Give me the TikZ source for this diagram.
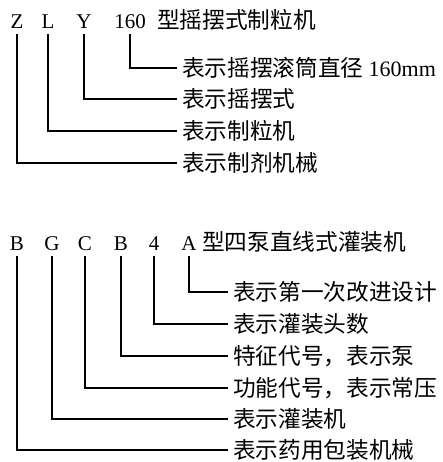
\documentclass[tikz,border=0pt]{standalone}
\usepackage{fontspec}
\setmainfont{Liberation Serif}
\newfontfamily\cjk[Scale=1.08]{Noto Sans CJK SC}
\usetikzlibrary{positioning}

\tikzset{
  code/.style={font=\fontsize{21}{21}\selectfont, inner sep=0pt, anchor=base},
  meaning/.style={font=\fontsize{21}{21}\selectfont\cjk, anchor=west, inner xsep=5pt, inner ysep=0pt},
  lead/.style={line width=1.1pt},
}

\begin{document}
\begin{tikzpicture}[x=1pt,y=-1pt]
        \useasboundingbox (0,0) rectangle (442,462);

        % Model code ZLY160
        \node[code] (z) at (17,29) {Z};
        \node[code] (l) at (48,29) {L};
        \node[code] (y) at (84,29) {Y};
        \node[code] (n160) at (130,29) {160};
        \node[code, anchor=base west] (ztitle) at (157,29) {\cjk 型摇摆式制粒机};

        % Meanings
        \node[meaning] (lab160) at (177,68) {表示摇摆滚筒直径 {\normalfont\fontsize{22}{22}\selectfont 160mm}};
        \node[meaning] (laby) at (177,99) {表示摇摆式};
        \node[meaning] (labl) at (177,131) {表示制粒机};
        \node[meaning] (labz) at (177,163) {表示制剂机械};

        % Leaders
        \draw[lead] ([yshift=-5pt]n160.south) |- (lab160.west);
        \draw[lead] ([yshift=-5pt]y.south) |- (laby.west);
        \draw[lead] ([yshift=-5pt]l.south) |- (labl.west);
        \draw[lead] ([yshift=-5pt]z.south) |- (labz.west);

        % Model code BGCB4A
        \node[code] (b1) at (17,250) {B};
        \node[code] (g) at (52,250) {G};
        \node[code] (c) at (85,250) {C};
        \node[code] (b2) at (121,250) {B};
        \node[code] (four) at (154,250) {4};
        \node[code] (a) at (189,250) {A};
        \node[code, anchor=base west] (btitle) at (202,250) {\cjk 型四泵直线式灌装机};

        % Meanings
        \node[meaning] (laba) at (228,292) {表示第一次改进设计};
        \node[meaning] (labfour) at (228,324) {表示灌装头数};
        \node[meaning] (labb2) at (228,356) {特征代号，表示泵};
        \node[meaning] (labc) at (228,388) {功能代号，表示常压};
        \node[meaning] (labg) at (228,419) {表示灌装机};
        \node[meaning] (labb1) at (228,450) {表示药用包装机械};

        % Leaders
        \draw[lead] ([yshift=-6pt]a.south) |- (laba.west);
        \draw[lead] ([yshift=-6pt]four.south) |- (labfour.west);
        \draw[lead] ([yshift=-6pt]b2.south) |- (labb2.west);
        \draw[lead] ([yshift=-6pt]c.south) |- (labc.west);
        \draw[lead] ([yshift=-6pt]g.south) |- (labg.west);
        \draw[lead] ([yshift=-6pt]b1.south) |- (labb1.west);
    \end{tikzpicture}
\end{document}
